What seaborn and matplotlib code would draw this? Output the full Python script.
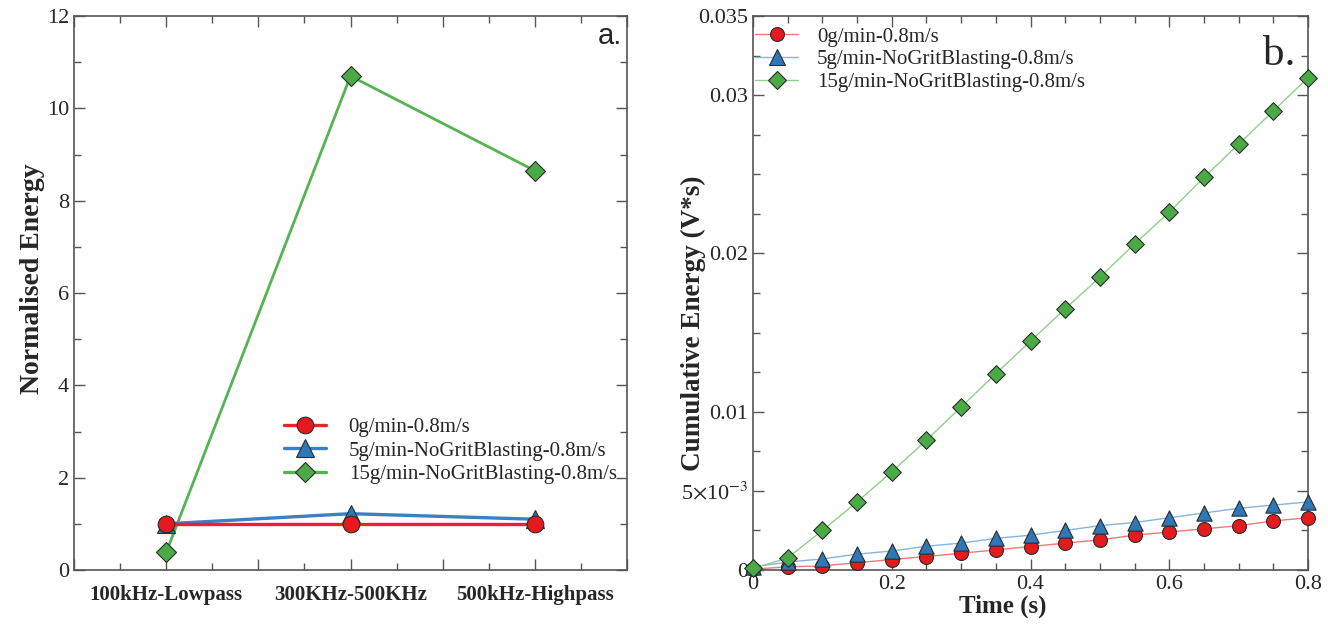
import numpy as np
import pandas as pd
import matplotlib
matplotlib.use("Agg")
import matplotlib.pyplot as plt
from matplotlib.ticker import MultipleLocator, FixedLocator
from matplotlib.lines import Line2D
import seaborn as sns

# ---------------- data ----------------
categories = ["100kHz-Lowpass", "300KHz-500KHz", "500kHz-Highpass"]
series_names = ["0g/min-0.8m/s", "5g/min-NoGritBlasting-0.8m/s", "15g/min-NoGritBlasting-0.8m/s"]
norm_red = [1.0, 1.0, 1.0]
norm_blue = [1.0, 1.22, 1.1]
norm_green = [0.38, 10.7, 8.65]

time_s = [0.0, 0.05, 0.1, 0.15, 0.2, 0.25, 0.3, 0.35, 0.4, 0.45, 0.5, 0.55, 0.6, 0.65, 0.7, 0.75, 0.8]
cum_red = [0.00005, 0.0002, 0.00026, 0.00046, 0.00066, 0.00085, 0.00106, 0.00127, 0.00148,
           0.0017, 0.0019, 0.0022, 0.0024, 0.0026, 0.0028, 0.0031, 0.0033]
cum_blue = [0.0002, 0.0005, 0.0007, 0.0010, 0.0012, 0.0015, 0.0017, 0.0020, 0.0022,
            0.0025, 0.0028, 0.0030, 0.0033, 0.0036, 0.0039, 0.0041, 0.0043]
cum_green = [0.0001, 0.00076, 0.0025, 0.0043, 0.0062, 0.0082, 0.0103, 0.0124, 0.01446,
             0.0165, 0.0185, 0.0206, 0.0226, 0.0248, 0.0269, 0.0290, 0.0311]

y_tick_vals_b = [0, 0.005, 0.01, 0.02, 0.03, 0.035]
y_tick_labels_b = ["0", r"5$\times$10$^{-3}$", "0.01", "0.02", "0.03", "0.035"]

# ---------------- style ----------------
sns.set_theme(style="ticks")
plt.rcParams["font.family"] = ["Liberation Serif", "DejaVu Serif"]
plt.rcParams["mathtext.fontset"] = "stix"
SPINE = "#555555"

marker_cols = ["#e41a1c", "#2e78b7", "#4aaa45"]
line_cols_a = ["#e8242a", "#3a80c2", "#55b350"]
line_cols_b = ["#f07878", "#86b4de", "#8fd08a"]
markers = ["o", "^", "D"]
msize_a = [12, 13, 10]
msize_b = [10, 11, 9]
EDGE = "#2b2b2b"

fig = plt.figure(figsize=(13.28, 6.32), dpi=100)
ax1 = fig.add_axes([74 / 1328, 62 / 632, 553 / 1328, 554 / 632])
ax2 = fig.add_axes([753 / 1328, 62 / 632, 555 / 1328, 554 / 632])


def style_axes(ax):
    for s in ax.spines.values():
        s.set_color(SPINE)
        s.set_linewidth(1.2)
    ax.tick_params(which="both", direction="in", top=True, right=True, color=SPINE,
                   labelsize=16, width=1.0)
    ax.tick_params(which="major", length=8)
    ax.tick_params(which="minor", length=5)


# ---------------- panel a ----------------
df_a = pd.DataFrame({
    "cat": categories * 3,
    "val": norm_red + norm_blue + norm_green,
    "series": [series_names[0]] * 3 + [series_names[1]] * 3 + [series_names[2]] * 3,
})
for i, name in enumerate(series_names):
    sub = df_a[df_a["series"] == name]
    sns.lineplot(data=sub, x="cat", y="val", ax=ax1, color=line_cols_a[i],
                 linewidth=2.4 if i < 2 else 2.0, marker=markers[i], markersize=msize_a[i],
                 markerfacecolor=marker_cols[i], markeredgecolor=EDGE, markeredgewidth=0.8,
                 sort=False, legend=False, zorder=3 + (2 - i))

ax1.set_xlim(-0.5, 2.5)
ax1.set_ylim(0, 12)
ax1.xaxis.set_major_locator(FixedLocator([-0.5, 0, 0.5, 1, 1.5, 2, 2.5]))
ax1.set_xticklabels(["", categories[0], "", categories[1], "", categories[2], ""],
                    fontweight="bold", fontsize=15)
ax1.xaxis.set_minor_locator(MultipleLocator(0.25))
ax1.yaxis.set_major_locator(MultipleLocator(2))
ax1.yaxis.set_minor_locator(MultipleLocator(1))
style_axes(ax1)
ax1.tick_params(axis="x", which="major", pad=11, labelsize=15)
ax1.set_xlabel("")
ax1.set_ylabel("Normalised Energy", fontsize=20, fontweight="bold")
ax1.yaxis.set_label_coords(-0.052, 0.525)
ax1.text(0.991, 0.949, "a.", transform=ax1.transAxes, ha="right", va="baseline",
         fontsize=21, family=["Liberation Sans", "DejaVu Sans"])

handles_a = [Line2D([], [], color=line_cols_a[i], lw=2.4, marker=markers[i],
                    markersize=msize_a[i], markerfacecolor=marker_cols[i],
                    markeredgecolor=EDGE, markeredgewidth=0.8) for i in range(3)]
ax1.legend(handles_a, series_names, loc="upper left", bbox_to_anchor=(0.38, 0.275),
           frameon=False, fontsize=15, borderpad=0, borderaxespad=0,
           handlelength=2.0, handletextpad=1.1, labelspacing=0.18)

# ---------------- panel b ----------------
df_b = pd.DataFrame({
    "t": time_s * 3,
    "E": cum_red + cum_blue + cum_green,
    "series": [series_names[0]] * len(time_s) + [series_names[1]] * len(time_s)
              + [series_names[2]] * len(time_s),
})
for i, name in enumerate(series_names):
    sub = df_b[df_b["series"] == name]
    sns.lineplot(data=sub, x="t", y="E", ax=ax2, color=line_cols_b[i], linewidth=1.0,
                 legend=False, zorder=2, clip_on=False)
for i, name in enumerate(series_names):
    sub = df_b[df_b["series"] == name]
    sns.scatterplot(data=sub, x="t", y="E", ax=ax2, marker=markers[i],
                    s=msize_b[i] ** 2, color=marker_cols[i], edgecolor=EDGE,
                    linewidth=0.8, legend=False, zorder=4, clip_on=False)

ax2.set_xlim(0, 0.8)
ax2.set_ylim(0, 0.035)
ax2.xaxis.set_major_locator(MultipleLocator(0.2))
ax2.xaxis.set_major_formatter(plt.FuncFormatter(lambda v, p: "0" if abs(v) < 1e-9 else f"{v:.1f}"))
ax2.xaxis.set_minor_locator(MultipleLocator(0.05))
ax2.yaxis.set_major_locator(FixedLocator(y_tick_vals_b))
ax2.set_yticklabels(y_tick_labels_b)
ax2.yaxis.set_minor_locator(MultipleLocator(0.0025))
style_axes(ax2)
ax2.set_xlabel("Time (s)", fontsize=18, fontweight="bold")
ax2.xaxis.set_label_coords(0.45, -0.045)
ax2.set_ylabel("Cumulative Energy (V*s)", fontsize=19.5, fontweight="bold")
ax2.yaxis.set_label_coords(-0.084, 0.445)
ax2.text(0.977, 0.912, "b.", transform=ax2.transAxes, ha="right", va="baseline", fontsize=31)

handles_b = [Line2D([], [], color=line_cols_b[i], lw=1.0, marker=markers[i],
                    markersize=msize_b[i], markerfacecolor=marker_cols[i],
                    markeredgecolor=EDGE, markeredgewidth=0.8) for i in range(3)]
ax2.legend(handles_b, series_names, loc="upper left", bbox_to_anchor=(0.003, 0.980),
           frameon=False, fontsize=15, borderpad=0, borderaxespad=0,
           handlelength=2.1, handletextpad=0.9, labelspacing=0.15)

fig.savefig("out.png", dpi=100)
